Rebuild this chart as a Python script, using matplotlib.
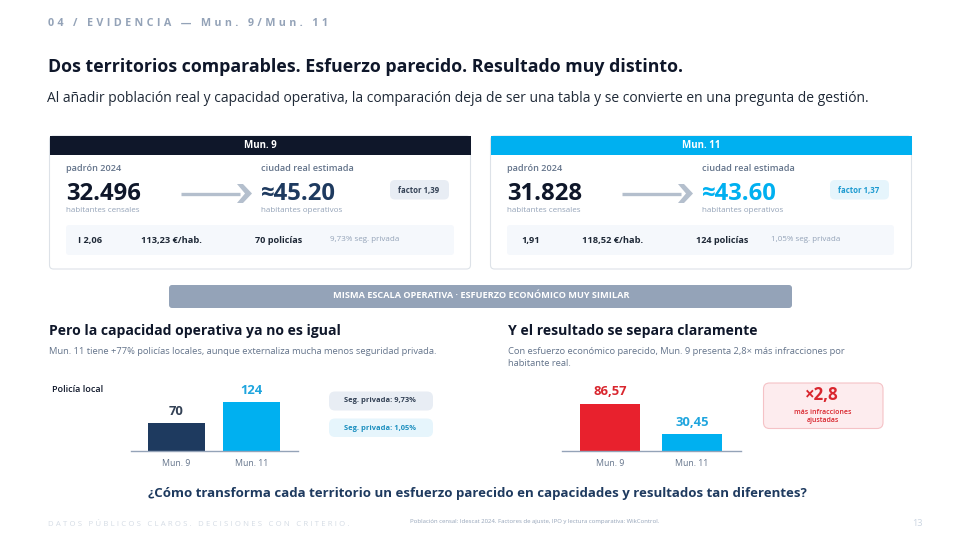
import matplotlib
matplotlib.use("Agg")
import matplotlib.pyplot as plt
from matplotlib.patches import FancyBboxPatch, Rectangle, Polygon

plt.rcParams['font.family'] = ['Open Sans', 'DejaVu Sans']

# ---- data
municipios = ["Mun. 9", "Mun. 11"]
policias = [70, 124]
infracciones = [86.57, 30.45]
policias_lbl = ["70", "124"]
infracciones_lbl = ["86,57", "30,45"]
padron = ["32.496", "31.828"]
real = ["≈45.20", "≈43.60"]
factor = ["factor 1,39", "factor 1,37"]
ipo = ["I 2,06", "1,91"]
gasto = ["113,23 €/hab.", "118,52 €/hab."]
pol_txt = ["70 policías", "124 policías"]
seg_txt = ["9,73% seg. privada", "1,05% seg. privada"]
seg_pill = ["Seg. privada: 9,73%", "Seg. privada: 1,05%"]

NAVY = "#0F172A"; BLUE = "#1E3A5F"; CYAN = "#00B0F0"; RED = "#E8212D"
GREY = "#64748B"; LGREY = "#94A3B8"; SLATE = "#94A3B8"

fig = plt.figure(figsize=(9.6, 5.4), dpi=100, facecolor="white")
bg = fig.add_axes([0, 0, 1, 1])
bg.set_xlim(0, 960); bg.set_ylim(540, 0); bg.axis("off")

def T(x, y, s, size, color=NAVY, weight="normal", ha="left", va="center", **kw):
    return bg.text(x, y + 1, s, fontsize=size, color=color, fontweight=weight, ha=ha, va=va, **kw)

def box(x0, y0, x1, y1, fc, ec="none", r=4, lw=1, z=1):
    bg.add_patch(FancyBboxPatch((x0 + r, y0 + r), x1 - x0 - 2 * r, y1 - y0 - 2 * r,
                                boxstyle=f"round,pad={r},rounding_size={r}",
                                fc=fc, ec=ec, lw=lw, zorder=z))

def spaced(s, n=2):
    return ("\u200a" * n).join(s)

# header
T(48, 22, spaced("04 / EVIDENCIA — Mun. 9/Mun. 11", 3), 7.75, color=LGREY, weight="bold")
T(48, 65.5, "Dos territorios comparables. Esfuerzo parecido. Resultado muy distinto.", 12.8, weight="bold")
T(47, 97, "Al añadir población real y capacidad operativa, la comparación deja de ser una tabla y se convierte en una pregunta de gestión.", 10.03, color="#1F2937")

# cards
for i, (dx, head, acc, pill_fc, pill_tc) in enumerate([
        (0, NAVY, BLUE, "#E8EDF4", "#334155"),
        (441, CYAN, CYAN, "#E6F5FC", "#1C9AD0")]):
    box(49.5 + dx, 136, 470.5 + dx, 269, "white", ec="#DDE2E8", r=4, lw=0.8, z=1)
    bg.add_patch(Rectangle((49.5 + dx, 136), 421, 19, fc=head, ec="none", zorder=2))
    T(260 + dx, 144.5, municipios[i], 7, color="white", weight="bold", ha="center", zorder=3)
    T(66 + dx, 167.5, "padrón 2024", 6.6, color=GREY, weight="semibold")
    T(66 + dx, 192.5, padron[i], 17.2, weight="bold")
    T(66 + dx, 209.5, "habitantes censales", 5.8, color=LGREY)
    # arrow
    bg.plot([181 + dx, 240 + dx], [193.5, 193.5], color="#B4BFCD", lw=2.4, solid_capstyle="butt", zorder=3)
    bg.add_patch(Polygon([(237 + dx, 184), (243 + dx, 184), (252 + dx, 193.5), (243 + dx, 203), (237 + dx, 203), (245 + dx, 193.5)],
                         fc="#B4BFCD", ec="none", zorder=3))
    T(261 + dx, 167.5, "ciudad real estimada", 6.6, color=GREY, weight="semibold")
    T(261 + dx, 192.5, real[i], 17.2, color=acc, weight="bold")
    T(261 + dx, 209.5, "habitantes operativos", 5.8, color=LGREY)
    box(390 + dx - (1 if i else 0), 180, 449 + dx - (1 if i else 0), 199.5, pill_fc, r=5, z=2)
    T(419 + dx - (1 if i else 0), 189.5, factor[i], 5.6, color=pill_tc, weight="bold", ha="center", zorder=3)
    # strip
    box(66 + dx, 225, 454 + dx - (1 if i else 0), 255, "#F5F8FC", r=3, z=2)
    T(78 + dx if i == 0 else 521, 239.5, ipo[i], 6.7, color="#1F2937", weight="bold", zorder=3)
    T(141 + dx, 239.5, gasto[i], 6.7, color="#1F2937", weight="bold", zorder=3)
    T(255 + dx, 239.5, pol_txt[i], 6.6, color="#1F2937", weight="bold", zorder=3)
    T(330 + dx, 238.5, seg_txt[i], 5.8, color=LGREY, zorder=3)

# banner
box(169, 285, 792, 308, SLATE, r=3)
T(481.5, 294.5, "MISMA ESCALA OPERATIVA · ESFUERZO ECONÓMICO MUY SIMILAR", 6.55, color="white", weight="bold", ha="center", zorder=3)

# section titles
T(49, 330, "Pero la capacidad operativa ya no es igual", 10.1, weight="bold")
T(49, 351, "Mun. 11 tiene +77% policías locales, aunque externaliza mucha menos seguridad privada.", 6.75, color=GREY)
T(508, 330, "Y el resultado se separa claramente", 10.1, weight="bold")
T(508, 350, "Con esfuerzo económico parecido, Mun. 9 presenta 2,8× más infracciones por", 6.75, color=GREY)
T(508, 362, "habitante real.", 6.75, color=GREY)
T(52, 389, "Policía local", 6.5, color=NAVY, weight="semibold")

def bars(x0, x1, c0, spacing, width_px, ppu, vals, labels, colors, lblcolors):
    top = 380; base = 451
    ax = fig.add_axes([x0 / 960, 1 - base / 540, (x1 - x0) / 960, (base - top) / 540])
    ax.patch.set_alpha(0)
    ax.set_xlim((x0 - c0) / spacing, (x1 - c0) / spacing)
    ax.set_ylim(0, (base - top) / ppu)
    xs = range(len(vals))
    ax.bar(xs, vals, width=width_px / spacing, color=colors)
    for x, v, l, c in zip(xs, vals, labels, lblcolors):
        ax.annotate(l, (x, v), xytext=(0, 4), textcoords="offset points", ha="center", va="bottom",
                    fontsize=9.4, fontweight="bold", color=c)
    ax.set_xticks(list(xs), municipios, fontsize=6.3, color=GREY)
    ax.tick_params(axis="x", length=0, pad=6)
    ax.set_yticks([])
    for s in ["top", "left", "right"]:
        ax.spines[s].set_visible(False)
    ax.spines["bottom"].set_color("#94A3B8"); ax.spines["bottom"].set_linewidth(1)

bars(131, 298, 176.5, 75, 57, 0.393, policias, policias_lbl, [BLUE, CYAN], ["#334155", "#1FA5DE"])
bars(562, 741, 610, 82, 60, 0.543, infracciones, infracciones_lbl, [RED, CYAN], ["#D9262E", "#1FA5DE"])

# side pills
box(329, 391.5, 433, 410.5, "#E8EDF4", r=6)
T(380, 400, seg_pill[0], 5.4, color="#334155", weight="bold", ha="center", zorder=3)
box(329, 418.5, 433, 437, "#E6F5FC", r=6)
T(380, 427, seg_pill[1], 5.4, color="#1C8FBF", weight="bold", ha="center", zorder=3)

# callout
box(763.5, 383, 883, 428.5, "#FDECEE", ec="#F5C2C6", r=6, lw=0.8)
T(822, 394, "×2,8", 12.2, color="#D9262E", weight="bold", ha="center", zorder=3)
T(823, 411.5, "más infracciones", 5, color="#D9262E", weight="semibold", ha="center", zorder=3)
T(823, 419, "ajustadas", 5, color="#D9262E", weight="semibold", ha="center", zorder=3)

# question + footer
T(477, 492.5, "¿Cómo transforma cada territorio un esfuerzo parecido en capacidades y resultados tan diferentes?", 9.5, color=BLUE, weight="bold", ha="center")
T(48, 523, spaced("DATOS PÚBLICOS CLAROS. DECISIONES CON CRITERIO.", 3), 5.6, color="#D5DCE5")
T(535, 520, "Población censal: Idescat 2024. Factores de ajuste, IPO y lectura comparativa: WikControl.", 4.35, color=LGREY, ha="center")
T(917, 523, "13", 6.6, color="#CBD5E1", ha="center")

fig.savefig("out.png", dpi=100, facecolor="white")
